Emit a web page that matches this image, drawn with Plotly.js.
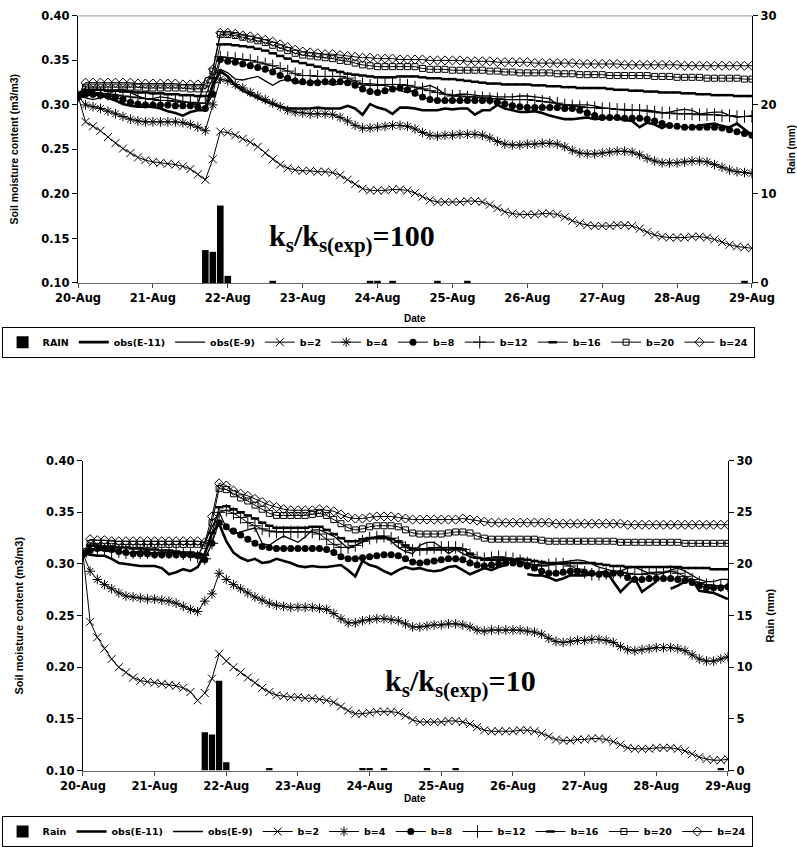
<!DOCTYPE html>
<html><head><meta charset="utf-8">
<script src="https://cdn.plot.ly/plotly-3.0.1.min.js"></script>
<style>html,body{margin:0;padding:0;background:#fff}#chart{width:797px;height:847px}</style>
</head><body><div id="chart"></div>
<script>
// time axis: 20-Aug 00:00 to 29-Aug 00:00, one value every 0.1 day (2.4 h)
const startDay = '2001-08-20';
const stepMs = 8640000;
const nPts = 91;

const seriesNames = ['obs(E-11)','obs(E-9)','b=2','b=4','b=8','b=12','b=16','b=20','b=24'];

// rain (mm), same event in both panels
const rainMm = [
0,0,0,0,0,0,0,0,0,0,
0,0,0,0,0,0,0,3.7,3.5,8.7,
0.8,0,0,0,0,0,0.25,0,0,0,
0,0,0,0,0,0,0,0,0,0.25,
0.25,0,0.25,0,0,0,0,0,0.25,0,
0,0,0.25,0,0,0,0,0,0,0,
0,0,0,0,0,0,0,0,0,0,
0,0,0,0,0,0,0,0,0,0,
0,0,0,0,0,0,0,0,0,0.25,
0];

// ---------- panel 1 : ks/ks(exp)=100 ----------
const top_obs11 = [
0.310,0.311,0.312,0.311,0.308,0.305,0.301,0.299,0.298,0.298,
0.298,0.296,0.293,0.291,0.288,0.292,0.294,0.294,0.322,0.338,
0.332,0.322,0.316,0.312,0.308,0.304,0.301,0.298,0.296,0.296,
0.296,0.296,0.297,0.296,0.296,0.296,0.299,0.296,0.289,0.301,
0.297,0.295,0.290,0.297,0.297,0.296,0.294,0.294,0.294,0.296,
0.295,0.296,0.296,0.289,0.294,0.294,0.300,0.296,0.294,0.292,
0.292,0.293,0.291,0.288,0.286,0.284,0.284,0.285,0.286,0.284,
0.285,0.286,0.285,0.283,0.282,0.275,0.280,0.278,0.274,0.279,
null,null,0.274,0.277,0.278,0.279,0.276,0.275,0.279,0.272,
0.266];
const top_obs9 = [
0.310,0.308,0.306,0.308,0.312,0.316,0.318,0.314,0.310,0.307,
0.307,0.309,0.308,0.306,0.304,0.302,0.300,0.330,0.333,0.340,
0.336,0.329,0.328,0.330,0.332,0.327,0.322,0.327,0.329,0.325,
0.324,0.326,0.327,0.325,0.322,0.324,0.327,0.325,0.322,0.324,
0.323,0.322,0.320,0.316,0.314,0.317,0.320,0.322,0.318,0.312,
0.311,0.312,0.312,0.311,0.310,0.310,0.309,0.309,0.309,0.310,
0.310,0.309,0.308,0.307,0.300,0.300,0.300,0.300,0.300,0.299,
0.297,0.296,0.295,0.294,0.294,0.294,0.294,0.293,0.291,0.292,
0.294,0.295,0.294,0.290,0.291,0.292,0.292,0.288,0.286,0.287,
0.288];
const top_b2 = [
0.310,0.281,0.276,0.271,0.264,0.257,0.251,0.246,0.241,0.238,
0.236,0.235,0.234,0.233,0.231,0.228,0.222,0.216,0.239,0.270,
0.269,0.266,0.262,0.258,0.253,0.246,0.239,0.233,0.229,0.227,
0.226,0.226,0.225,0.225,0.224,0.221,0.216,0.211,0.206,0.204,
0.204,0.204,0.205,0.205,0.204,0.201,0.197,0.193,0.191,0.191,
0.191,0.191,0.192,0.192,0.191,0.188,0.184,0.180,0.178,0.177,
0.177,0.177,0.178,0.178,0.177,0.174,0.170,0.167,0.165,0.164,
0.164,0.164,0.165,0.165,0.164,0.161,0.157,0.154,0.152,0.151,
0.151,0.151,0.152,0.152,0.151,0.149,0.146,0.143,0.141,0.140,
0.139];
const top_b4 = [
0.310,0.300,0.298,0.296,0.293,0.290,0.287,0.284,0.282,0.281,
0.281,0.281,0.281,0.281,0.280,0.278,0.275,0.271,0.300,0.329,
0.327,0.323,0.319,0.314,0.310,0.306,0.302,0.298,0.294,0.292,
0.291,0.290,0.290,0.290,0.289,0.286,0.282,0.277,0.274,0.274,
0.275,0.276,0.277,0.277,0.276,0.273,0.269,0.266,0.265,0.266,
0.266,0.267,0.267,0.267,0.266,0.263,0.259,0.256,0.255,0.255,
0.256,0.256,0.257,0.257,0.256,0.253,0.249,0.246,0.245,0.245,
0.246,0.247,0.248,0.248,0.247,0.244,0.240,0.237,0.235,0.235,
0.235,0.236,0.237,0.237,0.236,0.233,0.230,0.227,0.225,0.224,
0.223];
const top_b8 = [
0.310,0.312,0.312,0.311,0.310,0.309,0.306,0.303,0.301,0.300,
0.300,0.300,0.300,0.299,0.299,0.299,0.298,0.296,0.312,0.351,
0.349,0.348,0.346,0.344,0.342,0.340,0.337,0.333,0.330,0.327,
0.326,0.325,0.325,0.326,0.326,0.326,0.325,0.322,0.318,0.315,
0.314,0.316,0.318,0.319,0.317,0.313,0.309,0.306,0.305,0.305,
0.305,0.305,0.305,0.305,0.305,0.305,0.303,0.301,0.299,0.298,
0.297,0.297,0.297,0.297,0.297,0.296,0.296,0.294,0.291,0.288,
0.286,0.286,0.286,0.285,0.285,0.285,0.284,0.282,0.279,0.277,
0.276,0.275,0.275,0.275,0.275,0.275,0.274,0.272,0.270,0.268,
0.266];
const top_b12 = [
0.310,0.315,0.314,0.313,0.312,0.311,0.310,0.309,0.308,0.307,
0.306,0.305,0.305,0.304,0.303,0.303,0.302,0.302,0.325,0.354,
0.353,0.352,0.351,0.350,0.348,0.346,0.344,0.341,0.338,0.335,
0.333,0.333,0.332,0.332,0.332,0.332,0.330,0.327,0.324,0.322,
0.322,0.323,0.323,0.323,0.322,0.320,0.318,0.316,0.314,0.312,
0.310,0.310,0.309,0.309,0.308,0.307,0.307,0.306,0.306,0.306,
0.306,0.305,0.304,0.303,0.302,0.300,0.299,0.298,0.297,0.297,
0.296,0.296,0.295,0.295,0.294,0.294,0.293,0.292,0.291,0.291,
0.290,0.290,0.290,0.289,0.289,0.289,0.288,0.288,0.287,0.287,
0.287];
const top_b16 = [
0.310,0.317,0.317,0.317,0.316,0.316,0.315,0.315,0.314,0.314,
0.313,0.313,0.312,0.312,0.311,0.311,0.310,0.310,0.330,0.368,
0.368,0.367,0.366,0.365,0.363,0.361,0.358,0.355,0.352,0.349,
0.347,0.345,0.343,0.341,0.339,0.337,0.335,0.334,0.333,0.332,
0.331,0.331,0.331,0.332,0.332,0.332,0.331,0.330,0.330,0.329,
0.329,0.328,0.327,0.326,0.325,0.324,0.324,0.323,0.323,0.323,
0.323,0.322,0.322,0.321,0.321,0.320,0.320,0.319,0.319,0.319,
0.319,0.318,0.317,0.317,0.316,0.316,0.315,0.315,0.314,0.314,
0.314,0.313,0.313,0.312,0.312,0.311,0.311,0.311,0.310,0.310,
0.310];
const top_b20 = [
0.310,0.320,0.320,0.320,0.320,0.320,0.320,0.320,0.320,0.319,
0.319,0.319,0.319,0.319,0.319,0.318,0.318,0.318,0.338,0.379,
0.379,0.378,0.376,0.374,0.372,0.370,0.367,0.364,0.361,0.358,
0.356,0.355,0.354,0.353,0.352,0.350,0.349,0.347,0.345,0.344,
0.343,0.343,0.343,0.343,0.343,0.343,0.341,0.340,0.340,0.340,
0.339,0.339,0.339,0.339,0.339,0.338,0.338,0.337,0.337,0.336,
0.336,0.336,0.336,0.336,0.335,0.335,0.335,0.334,0.334,0.334,
0.334,0.333,0.333,0.333,0.333,0.333,0.333,0.332,0.332,0.332,
0.331,0.331,0.331,0.331,0.330,0.330,0.330,0.330,0.330,0.329,
0.329];
const top_b24 = [
0.310,0.325,0.325,0.325,0.325,0.325,0.325,0.325,0.324,0.324,
0.324,0.324,0.324,0.324,0.323,0.323,0.323,0.323,0.340,0.381,
0.381,0.380,0.378,0.377,0.375,0.373,0.371,0.368,0.365,0.362,
0.360,0.359,0.358,0.357,0.357,0.356,0.355,0.354,0.353,0.353,
0.352,0.352,0.352,0.351,0.351,0.351,0.351,0.350,0.350,0.350,
0.350,0.350,0.349,0.349,0.349,0.349,0.348,0.348,0.348,0.348,
0.348,0.347,0.347,0.347,0.347,0.347,0.347,0.346,0.346,0.346,
0.346,0.346,0.346,0.345,0.345,0.345,0.345,0.345,0.345,0.345,
0.345,0.344,0.344,0.344,0.344,0.344,0.344,0.344,0.344,0.344,
0.344];

// ---------- panel 2 : ks/ks(exp)=10 ----------
const bot_obs11 = [
0.310,0.309,0.308,0.308,0.305,0.301,0.300,0.299,0.298,0.298,
0.298,0.296,0.290,0.292,0.295,0.293,0.297,0.310,0.330,0.339,
0.322,0.311,0.306,0.303,0.305,0.301,0.302,0.305,0.303,0.301,
0.298,0.297,0.298,0.297,0.297,0.298,0.299,0.294,0.288,0.303,
0.299,0.297,0.293,0.290,0.294,0.297,0.295,0.296,0.294,0.293,
0.294,0.297,0.298,0.294,0.290,0.293,0.296,0.294,0.297,0.299,
null,null,0.290,0.289,0.289,0.287,0.284,0.286,0.289,0.289,
0.289,0.290,0.291,0.293,0.283,0.273,0.280,0.286,0.273,0.278,
0.283,null,0.276,0.279,0.283,0.285,0.274,0.273,0.272,0.269,
0.266];
const bot_obs9 = [
0.310,0.312,0.314,0.316,0.315,0.312,0.310,0.311,0.313,0.312,
0.310,0.309,0.310,0.311,0.309,0.307,0.307,0.321,0.336,0.350,
0.335,0.329,0.331,0.333,0.335,0.320,0.318,0.323,0.327,0.324,
0.321,0.326,0.333,0.333,0.330,0.327,0.321,0.315,0.318,0.321,
0.324,0.327,0.327,0.322,0.316,0.312,0.310,0.318,0.321,0.321,
0.316,0.310,0.314,0.310,0.307,0.306,0.305,0.306,0.306,0.305,
0.303,0.301,0.300,0.299,0.300,0.301,0.301,0.302,0.303,0.304,
0.303,0.300,0.297,0.295,0.293,0.293,0.296,0.297,0.294,0.291,
0.290,0.291,0.294,0.296,0.293,0.289,0.285,0.283,0.283,0.285,
0.285];
const bot_b2 = [
0.310,0.244,0.229,0.218,0.208,0.200,0.195,0.190,0.187,0.186,
0.185,0.184,0.183,0.182,0.180,0.176,0.168,0.175,0.189,0.213,
0.206,0.200,0.195,0.190,0.185,0.180,0.176,0.173,0.172,0.171,
0.171,0.170,0.170,0.169,0.168,0.166,0.162,0.158,0.155,0.155,
0.156,0.157,0.157,0.157,0.156,0.153,0.149,0.147,0.147,0.147,
0.147,0.148,0.148,0.147,0.145,0.142,0.139,0.138,0.138,0.138,
0.138,0.139,0.139,0.138,0.136,0.133,0.130,0.129,0.129,0.130,
0.130,0.131,0.131,0.130,0.128,0.125,0.122,0.121,0.121,0.121,
0.122,0.122,0.122,0.121,0.119,0.116,0.113,0.111,0.110,0.110,
0.111];
const bot_b4 = [
0.310,0.293,0.285,0.280,0.276,0.272,0.269,0.268,0.267,0.266,
0.266,0.265,0.264,0.262,0.259,0.256,0.254,0.264,0.271,0.291,
0.285,0.280,0.276,0.272,0.268,0.265,0.262,0.260,0.259,0.258,
0.258,0.258,0.258,0.257,0.256,0.252,0.247,0.243,0.243,0.245,
0.246,0.247,0.247,0.246,0.245,0.242,0.239,0.239,0.240,0.241,
0.241,0.242,0.242,0.241,0.239,0.236,0.235,0.236,0.236,0.236,
0.236,0.236,0.235,0.234,0.232,0.228,0.225,0.224,0.225,0.226,
0.226,0.227,0.227,0.226,0.224,0.220,0.217,0.216,0.217,0.218,
0.219,0.219,0.219,0.218,0.216,0.212,0.208,0.206,0.206,0.208,
0.210];
const bot_b8 = [
0.310,0.313,0.315,0.315,0.314,0.312,0.311,0.310,0.310,0.310,
0.309,0.309,0.309,0.309,0.309,0.309,0.308,0.304,0.320,0.340,
0.336,0.332,0.328,0.324,0.320,0.317,0.316,0.315,0.315,0.315,
0.315,0.315,0.315,0.315,0.314,0.311,0.307,0.305,0.305,0.306,
0.307,0.308,0.309,0.309,0.308,0.305,0.302,0.301,0.302,0.303,
0.304,0.305,0.305,0.304,0.301,0.299,0.298,0.299,0.300,0.301,
0.301,0.300,0.298,0.296,0.293,0.291,0.291,0.292,0.293,0.293,
0.292,0.291,0.290,0.290,0.291,0.291,0.287,0.285,0.285,0.286,
0.286,0.286,0.286,0.285,0.284,0.282,0.279,0.277,0.277,0.277,
0.278];
const bot_b12 = [
0.310,0.315,0.314,0.313,0.312,0.312,0.311,0.311,0.311,0.311,
0.311,0.311,0.311,0.311,0.310,0.309,0.307,0.305,0.320,0.350,
0.352,0.349,0.345,0.340,0.337,0.334,0.332,0.331,0.331,0.331,
0.331,0.331,0.331,0.329,0.324,0.319,0.316,0.316,0.318,0.322,
0.325,0.326,0.327,0.325,0.321,0.316,0.313,0.314,0.315,0.316,
0.316,0.316,0.316,0.314,0.309,0.306,0.305,0.306,0.307,0.306,
0.305,0.303,0.301,0.299,0.298,0.299,0.300,0.300,0.298,0.295,
0.292,0.290,0.290,0.291,0.292,0.292,0.291,0.290,0.290,0.291,
0.292,0.292,0.293,0.291,0.288,0.285,0.282,0.280,0.279,0.279,
0.279];
const bot_b16 = [
0.310,0.318,0.318,0.317,0.317,0.316,0.316,0.315,0.315,0.314,
0.314,0.313,0.313,0.312,0.311,0.311,0.310,0.309,0.330,0.355,
0.356,0.353,0.350,0.347,0.344,0.340,0.337,0.335,0.335,0.335,
0.335,0.335,0.336,0.336,0.333,0.329,0.325,0.322,0.322,0.324,
0.325,0.325,0.325,0.324,0.322,0.318,0.315,0.314,0.314,0.314,
0.314,0.314,0.315,0.314,0.310,0.306,0.304,0.304,0.304,0.304,
0.304,0.305,0.304,0.303,0.302,0.301,0.301,0.301,0.301,0.301,
0.301,0.301,0.300,0.299,0.298,0.298,0.297,0.297,0.297,0.297,
0.297,0.297,0.297,0.297,0.296,0.296,0.296,0.296,0.295,0.295,
0.295];
const bot_b20 = [
0.310,0.320,0.320,0.320,0.320,0.319,0.319,0.319,0.319,0.319,
0.319,0.319,0.319,0.319,0.319,0.319,0.319,0.318,0.340,0.373,
0.372,0.368,0.364,0.361,0.357,0.353,0.349,0.347,0.347,0.347,
0.347,0.347,0.348,0.349,0.347,0.343,0.339,0.335,0.333,0.334,
0.336,0.337,0.337,0.337,0.336,0.333,0.330,0.329,0.329,0.329,
0.329,0.330,0.331,0.331,0.330,0.327,0.325,0.324,0.324,0.324,
0.324,0.324,0.324,0.324,0.323,0.322,0.322,0.322,0.322,0.322,
0.322,0.322,0.322,0.322,0.322,0.321,0.321,0.321,0.321,0.321,
0.321,0.321,0.321,0.321,0.320,0.320,0.320,0.320,0.320,0.320,
0.320];
const bot_b24 = [
0.310,0.324,0.323,0.323,0.322,0.322,0.322,0.322,0.322,0.322,
0.322,0.322,0.322,0.322,0.322,0.322,0.322,0.321,0.346,0.378,
0.376,0.371,0.368,0.366,0.363,0.360,0.357,0.355,0.353,0.352,
0.352,0.352,0.352,0.353,0.352,0.351,0.348,0.345,0.344,0.344,
0.345,0.346,0.346,0.346,0.345,0.344,0.343,0.343,0.343,0.343,
0.343,0.343,0.343,0.344,0.343,0.342,0.341,0.340,0.340,0.340,
0.340,0.340,0.340,0.340,0.340,0.340,0.339,0.339,0.339,0.339,
0.339,0.339,0.339,0.339,0.339,0.339,0.338,0.338,0.338,0.338,
0.338,0.338,0.338,0.338,0.338,0.338,0.338,0.338,0.338,0.338,
0.338];

const topSeries = [top_obs11, top_obs9, top_b2, top_b4, top_b8, top_b12, top_b16, top_b20, top_b24];
const botSeries = [bot_obs11, bot_obs9, bot_b2, bot_b4, bot_b8, bot_b12, bot_b16, bot_b20, bot_b24];

// ---------- build ----------
const t0 = Date.parse(startDay + 'T00:00:00Z');
function fmt(ms){ return new Date(ms).toISOString().replace('T',' ').slice(0,19); }
const times = Array.from({length:nPts}, (_, i) => fmt(t0 + i*stepMs));

const K = '#000';
const styles = {
  'obs(E-11)': {mode:'lines', line:{width:2.6, color:K}},
  'obs(E-9)':  {mode:'lines', line:{width:1.3, color:K}},
  'b=2':  {mode:'lines+markers', line:{width:1, color:K}, marker:{symbol:'x-thin-open', size:8, color:K, line:{width:1, color:K}}},
  'b=4':  {mode:'lines+markers', line:{width:1, color:K}, marker:{symbol:'asterisk-open', size:8, color:K, line:{width:1, color:K}}},
  'b=8':  {mode:'lines+markers', line:{width:1, color:K}, marker:{symbol:'circle', size:7, color:K, line:{width:0}}},
  'b=12': {mode:'lines+markers', line:{width:1, color:K}, marker:{symbol:'cross-thin-open', size:9, color:K, line:{width:1, color:K}}},
  'b=16': {mode:'lines+markers', line:{width:1, color:K}, marker:{symbol:'line-ew-open', size:6, color:K, line:{width:2.5, color:K}}},
  'b=20': {mode:'lines+markers', line:{width:1, color:K}, marker:{symbol:'square-open', size:6, color:K, line:{width:1, color:K}}},
  'b=24': {mode:'lines+markers', line:{width:1, color:K}, marker:{symbol:'diamond-open', size:7, color:K, line:{width:1, color:K}}}
};

function panel(series, xa, ya, ya2, leg, rainName){
  const tr = [{
    type:'bar', name:rainName, x:times, y:rainMm, xaxis:xa, yaxis:ya2, legend:leg,
    marker:{color:K, line:{width:0}}, hoverinfo:'skip'
  }];
  series.forEach((vals, k) => {
    const nm = seriesNames[k];
    tr.push(Object.assign({type:'scatter', name:nm, x:times, y:vals, xaxis:xa, yaxis:ya, legend:leg, connectgaps:false}, JSON.parse(JSON.stringify(styles[nm]))));
  });
  return tr;
}

const data = [].concat(
  panel(topSeries, 'x', 'y', 'y2', 'legend', 'RAIN'),
  panel(botSeries, 'x2', 'y3', 'y4', 'legend2', 'Rain')
);

const tickFont = {family:'DejaVu Sans', size:11.5, color:K, weight:700};
const xCommon = {type:'date', range:['2001-08-20 00:00:00','2001-08-29 00:00:00'], dtick:86400000, tick0:'2001-08-20',
  tickformat:'%d-%b', ticks:'outside', ticklen:4, tickcolor:'#444', showline:true, linecolor:'#666', linewidth:1.2,
  showgrid:false, zeroline:false, tickfont:tickFont};
const yCommon = {range:[0.10,0.40], dtick:0.05, tick0:0.10, tickformat:'.2f', ticks:'outside', ticklen:5, tickcolor:K,
  showline:true, linecolor:K, linewidth:1.2, showgrid:false, zeroline:false, tickfont:tickFont};
const rCommon = {range:[0,30], side:'right', ticks:'outside', ticklen:5, tickcolor:K, showline:true, linecolor:K, linewidth:1.2,
  showgrid:false, zeroline:false, tickfont:tickFont, tickformat:'d'};

const legFont = {family:'DejaVu Sans', size:9.5, color:K, weight:700};
const layout = {
  width:797, height:847, margin:{l:0,r:0,t:0,b:0}, paper_bgcolor:'#fff', plot_bgcolor:'rgba(0,0,0,0)',
  showlegend:true, bargap:0.12,
  xaxis: Object.assign({}, xCommon, {domain:[0.0979,0.9435], anchor:'y'}),
  yaxis: Object.assign({}, yCommon, {domain:[0.6635,0.9811], anchor:'x'}),
  yaxis2: Object.assign({}, rCommon, {overlaying:'y', anchor:'x', dtick:10}),
  xaxis2: Object.assign({}, xCommon, {domain:[0.1041,0.9134], anchor:'y3'}),
  yaxis3: Object.assign({}, yCommon, {domain:[0.0838,0.4522], anchor:'x2'}),
  yaxis4: Object.assign({}, rCommon, {overlaying:'y3', anchor:'x2', dtick:5}),
  legend: {orientation:'h', x:0.002, xanchor:'left', y:0.6116, yanchor:'top', bordercolor:K, borderwidth:1,
    bgcolor:'#fff', font:legFont, itemwidth:30, tracegroupgap:0},
  legend2: {orientation:'h', x:0.002, xanchor:'left', y:0.0295, yanchor:'top', bordercolor:K, borderwidth:1,
    bgcolor:'#fff', font:legFont, itemwidth:30, tracegroupgap:0},
  shapes: [
    {type:'line', xref:'paper', yref:'paper', x0:0.0979, x1:0.9435, y0:0.9811, y1:0.9811, line:{color:'#999', width:1}}
  ],
  annotations: [
    {xref:'paper', yref:'paper', x:0.335, y:0.7166, xanchor:'left', yanchor:'middle', showarrow:false,
     text:'k<sub>s</sub>/k<sub>s(exp)</sub>=100', font:{family:'Liberation Serif', size:30, color:K, weight:700}},
    {xref:'paper', yref:'paper', x:0.4806, y:0.1877, xanchor:'left', yanchor:'middle', showarrow:false,
     text:'k<sub>s</sub>/k<sub>s(exp)</sub>=10', font:{family:'Liberation Serif', size:30, color:K, weight:700}},
    {xref:'paper', yref:'paper', x:0.0169, y:0.8229, textangle:-90, showarrow:false, xanchor:'center', yanchor:'middle',
     text:'Soil moisture content (m3/m3)', font:{family:'Liberation Sans', size:10.5, color:K, weight:700}},
    {xref:'paper', yref:'paper', x:0.9937, y:0.8229, textangle:-90, showarrow:false, xanchor:'center', yanchor:'middle',
     text:'Rain (mm)', font:{family:'Liberation Sans', size:10, color:K, weight:700}},
    {xref:'paper', yref:'paper', x:0.0238, y:0.268, textangle:-90, showarrow:false, xanchor:'center', yanchor:'middle',
     text:'Soil moisture content (m3/m3)', font:{family:'Liberation Sans', size:11, color:K, weight:700}},
    {xref:'paper', yref:'paper', x:0.9661, y:0.268, textangle:-90, showarrow:false, xanchor:'center', yanchor:'middle',
     text:'Rain (mm)', font:{family:'Liberation Sans', size:11, color:K, weight:700}},
    {xref:'paper', yref:'paper', x:0.5207, y:0.621, showarrow:false, xanchor:'center', yanchor:'middle',
     text:'Date', font:{family:'Liberation Sans', size:10, color:K, weight:700}},
    {xref:'paper', yref:'paper', x:0.5207, y:0.051, showarrow:false, xanchor:'center', yanchor:'middle',
     text:'Date', font:{family:'Liberation Sans', size:10, color:K, weight:700}}
  ]
};

Plotly.newPlot('chart', data, layout, {staticPlot:true, displayModeBar:false});
</script>
</body></html>
